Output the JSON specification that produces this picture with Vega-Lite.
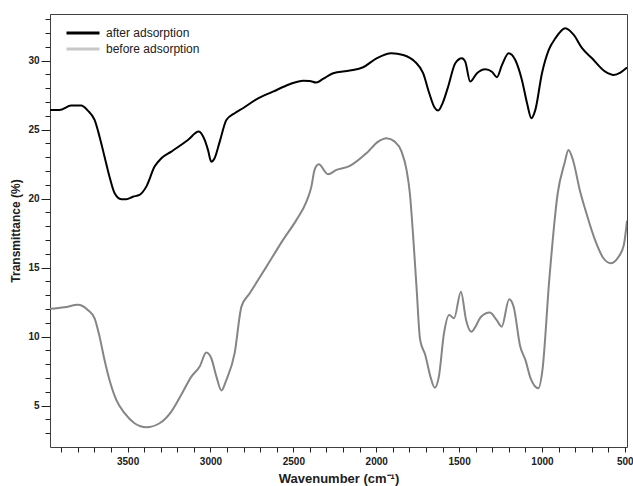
{
  "$schema": "https://vega.github.io/schema/vega-lite/v6.json",
  "width": 577,
  "height": 433,
  "autosize": {"type": "none"},
  "padding": {"left": 50, "top": 14, "right": 6, "bottom": 39},
  "background": "white",
  "config": {
    "font": "Liberation Sans",
    "view": {"stroke": "#404040", "strokeWidth": 1},
    "axis": {"domain": false, "grid": false, "tickColor": "#202020", "labelColor": "#202020", "titleColor": "#202020"}
  },
  "datasets": {
    "spectra": [
      {"wn": 3968, "T": 26.43, "sample": "after adsorption"},
      {"wn": 3911, "T": 26.43, "sample": "after adsorption"},
      {"wn": 3840, "T": 26.74, "sample": "after adsorption"},
      {"wn": 3780, "T": 26.74, "sample": "after adsorption"},
      {"wn": 3740, "T": 26.38, "sample": "after adsorption"},
      {"wn": 3699, "T": 25.7, "sample": "after adsorption"},
      {"wn": 3669, "T": 24.49, "sample": "after adsorption"},
      {"wn": 3639, "T": 23.04, "sample": "after adsorption"},
      {"wn": 3609, "T": 21.59, "sample": "after adsorption"},
      {"wn": 3578, "T": 20.39, "sample": "after adsorption"},
      {"wn": 3538, "T": 19.96, "sample": "after adsorption"},
      {"wn": 3508, "T": 19.96, "sample": "after adsorption"},
      {"wn": 3468, "T": 20.14, "sample": "after adsorption"},
      {"wn": 3428, "T": 20.27, "sample": "after adsorption"},
      {"wn": 3387, "T": 20.87, "sample": "after adsorption"},
      {"wn": 3337, "T": 22.32, "sample": "after adsorption"},
      {"wn": 3296, "T": 22.93, "sample": "after adsorption"},
      {"wn": 3236, "T": 23.41, "sample": "after adsorption"},
      {"wn": 3136, "T": 24.25, "sample": "after adsorption"},
      {"wn": 3071, "T": 24.86, "sample": "after adsorption"},
      {"wn": 3035, "T": 24.25, "sample": "after adsorption"},
      {"wn": 3015, "T": 23.53, "sample": "after adsorption"},
      {"wn": 2995, "T": 22.68, "sample": "after adsorption"},
      {"wn": 2975, "T": 22.93, "sample": "after adsorption"},
      {"wn": 2944, "T": 24.13, "sample": "after adsorption"},
      {"wn": 2904, "T": 25.7, "sample": "after adsorption"},
      {"wn": 2854, "T": 26.19, "sample": "after adsorption"},
      {"wn": 2804, "T": 26.55, "sample": "after adsorption"},
      {"wn": 2723, "T": 27.2, "sample": "after adsorption"},
      {"wn": 2623, "T": 27.75, "sample": "after adsorption"},
      {"wn": 2522, "T": 28.29, "sample": "after adsorption"},
      {"wn": 2441, "T": 28.55, "sample": "after adsorption"},
      {"wn": 2402, "T": 28.53, "sample": "after adsorption"},
      {"wn": 2361, "T": 28.41, "sample": "after adsorption"},
      {"wn": 2321, "T": 28.67, "sample": "after adsorption"},
      {"wn": 2260, "T": 29.09, "sample": "after adsorption"},
      {"wn": 2159, "T": 29.28, "sample": "after adsorption"},
      {"wn": 2079, "T": 29.52, "sample": "after adsorption"},
      {"wn": 1998, "T": 30.17, "sample": "after adsorption"},
      {"wn": 1908, "T": 30.54, "sample": "after adsorption"},
      {"wn": 1837, "T": 30.41, "sample": "after adsorption"},
      {"wn": 1767, "T": 29.93, "sample": "after adsorption"},
      {"wn": 1717, "T": 29.09, "sample": "after adsorption"},
      {"wn": 1680, "T": 27.64, "sample": "after adsorption"},
      {"wn": 1648, "T": 26.6, "sample": "after adsorption"},
      {"wn": 1626, "T": 26.38, "sample": "after adsorption"},
      {"wn": 1600, "T": 26.9, "sample": "after adsorption"},
      {"wn": 1566, "T": 28.12, "sample": "after adsorption"},
      {"wn": 1523, "T": 29.81, "sample": "after adsorption"},
      {"wn": 1483, "T": 30.17, "sample": "after adsorption"},
      {"wn": 1463, "T": 29.93, "sample": "after adsorption"},
      {"wn": 1433, "T": 28.48, "sample": "after adsorption"},
      {"wn": 1392, "T": 29.09, "sample": "after adsorption"},
      {"wn": 1342, "T": 29.38, "sample": "after adsorption"},
      {"wn": 1302, "T": 29.2, "sample": "after adsorption"},
      {"wn": 1272, "T": 28.8, "sample": "after adsorption"},
      {"wn": 1241, "T": 29.69, "sample": "after adsorption"},
      {"wn": 1201, "T": 30.54, "sample": "after adsorption"},
      {"wn": 1161, "T": 30.05, "sample": "after adsorption"},
      {"wn": 1121, "T": 28.6, "sample": "after adsorption"},
      {"wn": 1090, "T": 26.91, "sample": "after adsorption"},
      {"wn": 1064, "T": 25.83, "sample": "after adsorption"},
      {"wn": 1040, "T": 26.43, "sample": "after adsorption"},
      {"wn": 1000, "T": 29.09, "sample": "after adsorption"},
      {"wn": 959, "T": 30.78, "sample": "after adsorption"},
      {"wn": 919, "T": 31.62, "sample": "after adsorption"},
      {"wn": 859, "T": 32.35, "sample": "after adsorption"},
      {"wn": 808, "T": 31.86, "sample": "after adsorption"},
      {"wn": 758, "T": 30.9, "sample": "after adsorption"},
      {"wn": 698, "T": 30.17, "sample": "after adsorption"},
      {"wn": 618, "T": 29.2, "sample": "after adsorption"},
      {"wn": 567, "T": 28.96, "sample": "after adsorption"},
      {"wn": 527, "T": 29.13, "sample": "after adsorption"},
      {"wn": 487, "T": 29.5, "sample": "after adsorption"},

      {"wn": 3968, "T": 12.01, "sample": "before adsorption"},
      {"wn": 3880, "T": 12.13, "sample": "before adsorption"},
      {"wn": 3800, "T": 12.3, "sample": "before adsorption"},
      {"wn": 3740, "T": 11.93, "sample": "before adsorption"},
      {"wn": 3699, "T": 11.33, "sample": "before adsorption"},
      {"wn": 3669, "T": 10.0, "sample": "before adsorption"},
      {"wn": 3639, "T": 8.31, "sample": "before adsorption"},
      {"wn": 3609, "T": 6.86, "sample": "before adsorption"},
      {"wn": 3568, "T": 5.41, "sample": "before adsorption"},
      {"wn": 3518, "T": 4.45, "sample": "before adsorption"},
      {"wn": 3458, "T": 3.72, "sample": "before adsorption"},
      {"wn": 3387, "T": 3.43, "sample": "before adsorption"},
      {"wn": 3307, "T": 3.72, "sample": "before adsorption"},
      {"wn": 3236, "T": 4.57, "sample": "before adsorption"},
      {"wn": 3176, "T": 5.78, "sample": "before adsorption"},
      {"wn": 3115, "T": 7.1, "sample": "before adsorption"},
      {"wn": 3065, "T": 7.83, "sample": "before adsorption"},
      {"wn": 3025, "T": 8.84, "sample": "before adsorption"},
      {"wn": 2995, "T": 8.43, "sample": "before adsorption"},
      {"wn": 2964, "T": 7.1, "sample": "before adsorption"},
      {"wn": 2934, "T": 6.09, "sample": "before adsorption"},
      {"wn": 2904, "T": 6.86, "sample": "before adsorption"},
      {"wn": 2854, "T": 8.8, "sample": "before adsorption"},
      {"wn": 2813, "T": 12.17, "sample": "before adsorption"},
      {"wn": 2763, "T": 13.14, "sample": "before adsorption"},
      {"wn": 2662, "T": 15.07, "sample": "before adsorption"},
      {"wn": 2562, "T": 17.01, "sample": "before adsorption"},
      {"wn": 2481, "T": 18.46, "sample": "before adsorption"},
      {"wn": 2421, "T": 19.78, "sample": "before adsorption"},
      {"wn": 2391, "T": 20.87, "sample": "before adsorption"},
      {"wn": 2372, "T": 22.08, "sample": "before adsorption"},
      {"wn": 2347, "T": 22.49, "sample": "before adsorption"},
      {"wn": 2291, "T": 21.77, "sample": "before adsorption"},
      {"wn": 2240, "T": 22.08, "sample": "before adsorption"},
      {"wn": 2159, "T": 22.37, "sample": "before adsorption"},
      {"wn": 2059, "T": 23.29, "sample": "before adsorption"},
      {"wn": 1988, "T": 24.13, "sample": "before adsorption"},
      {"wn": 1938, "T": 24.38, "sample": "before adsorption"},
      {"wn": 1888, "T": 24.13, "sample": "before adsorption"},
      {"wn": 1847, "T": 23.41, "sample": "before adsorption"},
      {"wn": 1817, "T": 22.08, "sample": "before adsorption"},
      {"wn": 1797, "T": 20.39, "sample": "before adsorption"},
      {"wn": 1777, "T": 17.25, "sample": "before adsorption"},
      {"wn": 1757, "T": 13.62, "sample": "before adsorption"},
      {"wn": 1735, "T": 9.76, "sample": "before adsorption"},
      {"wn": 1704, "T": 8.67, "sample": "before adsorption"},
      {"wn": 1673, "T": 7.1, "sample": "before adsorption"},
      {"wn": 1647, "T": 6.3, "sample": "before adsorption"},
      {"wn": 1622, "T": 7.1, "sample": "before adsorption"},
      {"wn": 1591, "T": 10.25, "sample": "before adsorption"},
      {"wn": 1560, "T": 11.57, "sample": "before adsorption"},
      {"wn": 1530, "T": 11.33, "sample": "before adsorption"},
      {"wn": 1489, "T": 13.26, "sample": "before adsorption"},
      {"wn": 1458, "T": 11.21, "sample": "before adsorption"},
      {"wn": 1427, "T": 10.36, "sample": "before adsorption"},
      {"wn": 1366, "T": 11.45, "sample": "before adsorption"},
      {"wn": 1315, "T": 11.74, "sample": "before adsorption"},
      {"wn": 1274, "T": 11.21, "sample": "before adsorption"},
      {"wn": 1243, "T": 10.72, "sample": "before adsorption"},
      {"wn": 1198, "T": 12.71, "sample": "before adsorption"},
      {"wn": 1171, "T": 12.17, "sample": "before adsorption"},
      {"wn": 1131, "T": 9.28, "sample": "before adsorption"},
      {"wn": 1100, "T": 8.31, "sample": "before adsorption"},
      {"wn": 1069, "T": 6.99, "sample": "before adsorption"},
      {"wn": 1022, "T": 6.26, "sample": "before adsorption"},
      {"wn": 997, "T": 7.59, "sample": "before adsorption"},
      {"wn": 956, "T": 14.11, "sample": "before adsorption"},
      {"wn": 905, "T": 20.39, "sample": "before adsorption"},
      {"wn": 864, "T": 22.56, "sample": "before adsorption"},
      {"wn": 840, "T": 23.53, "sample": "before adsorption"},
      {"wn": 813, "T": 22.8, "sample": "before adsorption"},
      {"wn": 772, "T": 20.63, "sample": "before adsorption"},
      {"wn": 732, "T": 18.94, "sample": "before adsorption"},
      {"wn": 680, "T": 17.01, "sample": "before adsorption"},
      {"wn": 629, "T": 15.68, "sample": "before adsorption"},
      {"wn": 584, "T": 15.32, "sample": "before adsorption"},
      {"wn": 537, "T": 15.8, "sample": "before adsorption"},
      {"wn": 506, "T": 16.64, "sample": "before adsorption"},
      {"wn": 487, "T": 18.4, "sample": "before adsorption"}
    ]
  },
  "data": {"name": "spectra"},
  "encoding": {
    "x": {
      "field": "wn",
      "type": "quantitative",
      "scale": {"domain": [3968, 487], "nice": false, "zero": false},
      "axis": {
        "title": "Wavenumber (cm⁻¹)",
        "titleFontSize": 13,
        "titleFontWeight": "bold",
        "titlePadding": 6,
        "values": [3900, 3800, 3700, 3600, 3500, 3400, 3300, 3200, 3100, 3000, 2900, 2800, 2700, 2600, 2500, 2400, 2300, 2200, 2100, 2000, 1900, 1800, 1700, 1600, 1500, 1400, 1300, 1200, 1100, 1000, 900, 800, 700, 600, 500],
        "format": "d",
        "labelExpr": "datum.value % 500 === 0 ? datum.label : ''",
        "labelFontSize": 10,
        "labelFontWeight": "bold",
        "labelPadding": 4,
        "labelFlush": false,
        "tickSize": 5
      }
    },
    "y": {
      "field": "T",
      "type": "quantitative",
      "scale": {"domain": [2.0, 33.38], "nice": false, "zero": false},
      "axis": {
        "title": "Transmittance (%)",
        "titleFontSize": 12,
        "titleFontWeight": "bold",
        "titlePadding": 5,
        "values": [3, 4, 5, 6, 7, 8, 9, 10, 11, 12, 13, 14, 15, 16, 17, 18, 19, 20, 21, 22, 23, 24, 25, 26, 27, 28, 29, 30, 31, 32, 33],
        "labelExpr": "datum.value % 5 === 0 ? datum.label : ''",
        "labelFontSize": 10,
        "labelFontWeight": "bold",
        "labelPadding": 2,
        "tickSize": {"condition": {"test": "datum.value % 5 === 0", "value": 9}, "value": 5}
      }
    }
  },
  "layer": [
    {
      "mark": {"type": "line", "strokeWidth": 2, "interpolate": "monotone", "clip": true},
      "encoding": {
        "detail": {"field": "sample", "type": "nominal"},
        "stroke": {
          "condition": {"test": "datum.sample === 'after adsorption'", "value": "#000000"},
          "value": "#858585"
        }
      }
    },
    {
      "mark": {"type": "line", "strokeWidth": 2, "opacity": 0, "clip": true},
      "encoding": {
        "color": {
          "field": "sample",
          "type": "nominal",
          "scale": {"domain": ["after adsorption", "before adsorption"], "range": ["#000000", "#c8c8c8"]},
          "legend": {
            "title": null,
            "orient": "none",
            "legendX": 15,
            "legendY": 12,
            "padding": 0,
            "symbolType": "M-1,0H5",
            "symbolSize": 121,
            "symbolStrokeWidth": 3,
            "symbolOpacity": 1,
            "labelFontSize": 12,
            "labelColor": "#202020",
            "labelOffset": 27,
            "rowPadding": 3
          }
        }
      }
    }
  ]
}
